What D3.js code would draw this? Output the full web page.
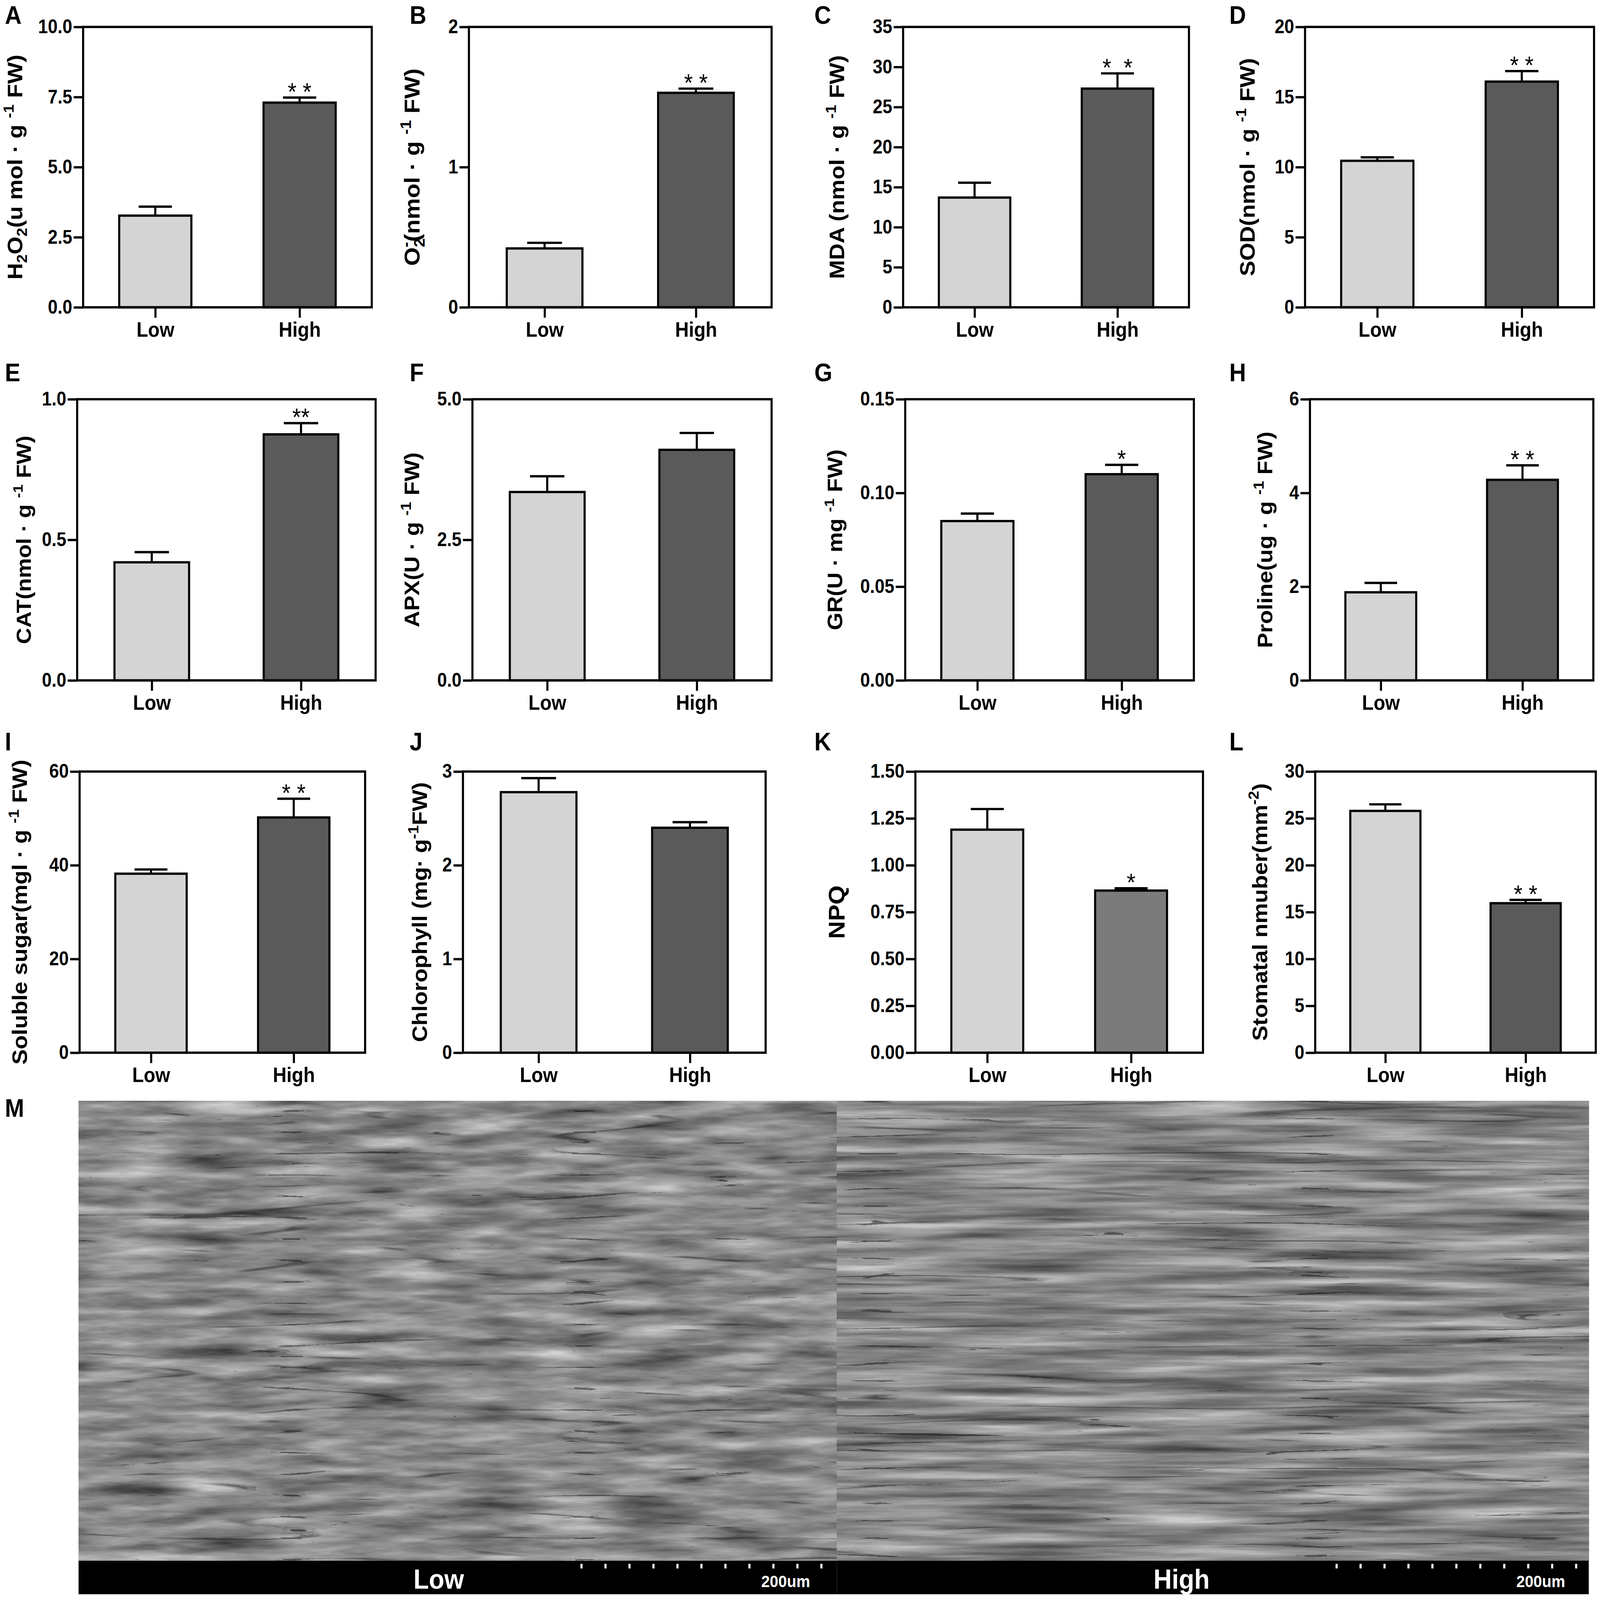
<!DOCTYPE html>
<html>
<head>
<meta charset="utf-8">
<script src="https://cdn.jsdelivr.net/npm/d3@7"></script>
<style>
  html, body { margin: 0; padding: 0; background: #fff; overflow: hidden; }
  svg { display: block; width: 100vw; height: 100vh; font-family: "Liberation Sans", Arial, sans-serif; }
  .pre { white-space: pre; }
</style>
</head>
<body>
<div id="chart"></div>
<script>
// ---- data ----
const categories = ["Low", "High"];
const panelLetters = ["A", "B", "C", "D", "E", "F", "G", "H", "I", "J", "K", "L"];
const lowMean  = [3.27, 0.42, 13.7, 10.45, 0.42, 3.35, 0.085, 1.88, 38.2, 2.78, 1.19, 25.8];
const lowErr   = [0.32, 0.04, 1.85, 0.25, 0.036, 0.28, 0.004, 0.20, 0.9, 0.15, 0.11, 0.7];
const highMean = [7.30, 1.53, 27.3, 16.1, 0.875, 4.10, 0.110, 4.28, 50.2, 2.40, 0.865, 15.95];
const highErr  = [0.18, 0.03, 1.9, 0.75, 0.04, 0.30, 0.005, 0.31, 4.0, 0.06, 0.012, 0.35];
const signif   = ["* *", "* *", "*  *", "* *", "**", "", "*", "* *", "* *", "", "*", "* *"];
const yMax     = [10, 2, 35, 20, 1, 5, 0.15, 6, 60, 3, 1.5, 30];
const yStep    = [2.5, 1, 5, 5, 0.5, 2.5, 0.05, 2, 20, 1, 0.25, 5];
const tickFormats = [".1f", "d", "d", "d", ".1f", ".1f", ".2f", "d", "d", "d", ".2f", "d"];
// y titles as [text, "sub" | "sup" | ""] pieces
const yTitles = [
  [["H", ""], ["2", "sub"], ["O", ""], ["2", "sub"], ["(u mol · g ", ""], ["-1", "sup"], [" FW)", ""]],
  [["O", ""], ["2", "sub"], ["-", "sup", true], ["(nmol · g ", ""], ["-1", "sup"], [" FW)", ""]],
  [["MDA (nmol · g ", ""], ["-1", "sup"], [" FW)", ""]],
  [["SOD(nmol · g ", ""], ["-1", "sup"], [" FW)", ""]],
  [["CAT(nmol · g ", ""], ["-1", "sup"], [" FW)", ""]],
  [["APX(U · g ", ""], ["-1", "sup"], [" FW)", ""]],
  [["GR(U · mg ", ""], ["-1", "sup"], [" FW)", ""]],
  [["Proline(ug · g ", ""], ["-1", "sup"], [" FW)", ""]],
  [["Soluble sugar(mgl · g ", ""], ["-1", "sup"], [" FW)", ""]],
  [["Chlorophyll (mg· g", ""], ["-1", "sup"], ["FW)", ""]],
  [["NPQ", ""]],
  [["Stomatal nmuber(mm", ""], ["-2", "sup"], [")", ""]]
];
const semLabels = ["Low", "High"];
const scaleText = "200um";

// ---- layout (pixels) ----
const W = 4562, H = 4160;
const rowTop = [70, 1038, 2006], rowBottom = [799, 1769, 2737], letterBase = [62, 991, 1951];
const colLetterX = [14, 1168, 2322, 3505];
const plotX = [
  [237, 1060], [1337, 2200], [2575, 3390], [3721, 4545],
  [220, 1071], [1347, 2200], [2581, 3404], [3735, 4543],
  [227, 1041], [1320, 2183], [2610, 3430], [3750, 4550]
];
const titleOff = [174, 141, 168, 144, 132, 152, 180, 108, 150, 103, 202, 137];
const titleLen = [585, 537, 582, 567, 542, 455, 470, 563, 793, 676, 139, 670];
const lowFill = "#d4d4d4", highFill = "#5a5a5a", highFillK = "#7b7b7b";
const LW = 6;

const svg = d3.select("#chart").append("svg")
  .attr("viewBox", `0 0 ${W} ${H}`)
  .attr("preserveAspectRatio", "none");

function drawTitle(g, segs, fs) {
  const t = g.append("text")
    .attr("class", "pre")
    .attr("text-anchor", "middle")
    .attr("font-weight", "bold")
    .attr("font-size", fs)
    .attr("dy", "0.36em");
  let shift = 0;
  segs.forEach(([s, k, stack]) => {
    const target = k === "sub" ? 0.24 * fs : k === "sup" ? -0.4 * fs : 0;
    const ts = t.append("tspan")
      .attr("dy", target - shift)
      .attr("font-size", k ? fs * 0.68 : fs)
      .text(s);
    if (stack) ts.attr("dx", -0.38 * fs);
    shift = target;
  });
  return t;
}

panelLetters.forEach((letter, i) => {
  const row = Math.floor(i / 4), col = i % 4;
  const x0 = plotX[i][0], x1 = plotX[i][1];
  const y0 = rowTop[row], y1 = rowBottom[row];
  const w = x1 - x0, h = y1 - y0;

  svg.append("text")
    .attr("x", colLetterX[col]).attr("y", letterBase[row])
    .attr("font-size", 66).attr("font-weight", "bold")
    .text(letter);

  const g = svg.append("g").attr("transform", `translate(${x0},${y0})`);

  const x = d3.scalePoint().domain(categories).range([0, w]).padding(0.5);
  const y = d3.scaleLinear().domain([0, yMax[i]]).range([h, 0]);
  const bw = w * 0.25;

  const bars = categories.map((c, j) => ({
    cat: c,
    v: j === 0 ? lowMean[i] : highMean[i],
    e: j === 0 ? lowErr[i] : highErr[i],
    fill: j === 0 ? lowFill : (letter === "K" ? highFillK : highFill)
  }));

  // error bars (upper only)
  g.selectAll(".err").data(bars).enter().append("line")
    .attr("x1", d => x(d.cat)).attr("x2", d => x(d.cat))
    .attr("y1", d => y(d.v)).attr("y2", d => y(d.v + d.e))
    .attr("stroke", "#000").attr("stroke-width", LW);
  g.selectAll(".cap").data(bars).enter().append("line")
    .attr("x1", d => x(d.cat) - bw * 0.23).attr("x2", d => x(d.cat) + bw * 0.23)
    .attr("y1", d => y(d.v + d.e)).attr("y2", d => y(d.v + d.e))
    .attr("stroke", "#000").attr("stroke-width", LW);

  g.selectAll(".bar").data(bars).enter().append("rect")
    .attr("x", d => x(d.cat) - bw / 2)
    .attr("y", d => y(d.v))
    .attr("width", bw)
    .attr("height", d => h - y(d.v))
    .attr("fill", d => d.fill)
    .attr("stroke", "#000").attr("stroke-width", LW);

  // significance marks
  if (signif[i]) {
    g.append("text")
      .attr("class", "pre")
      .attr("x", x("High"))
      .attr("y", y(highMean[i] + highErr[i]) + 6)
      .attr("text-anchor", "middle")
      .attr("font-size", 64)
      .text(signif[i]);
  }

  // frame
  g.append("rect")
    .attr("width", w).attr("height", h)
    .attr("fill", "none").attr("stroke", "#000").attr("stroke-width", LW);

  const ticks = d3.range(0, yMax[i] + yStep[i] / 2, yStep[i]);
  const ya = g.append("g")
    .call(d3.axisLeft(y).tickValues(ticks).tickSize(27).tickSizeOuter(0)
      .tickPadding(4).tickFormat(d3.format(tickFormats[i])));
  const xa = g.append("g").attr("transform", `translate(0,${h})`)
    .call(d3.axisBottom(x).tickSize(27).tickSizeOuter(0).tickPadding(11));
  [ya, xa].forEach(a => {
    a.select(".domain").remove();
    a.selectAll("line").attr("stroke", "#000").attr("stroke-width", LW);
    a.selectAll("text").attr("fill", "#000").attr("font-weight", "bold")
      .attr("font-family", "'Liberation Sans', Arial, sans-serif");
  });
  ya.selectAll("text").attr("font-size", 50);
  xa.selectAll("text").attr("font-size", 54);

  // y title, sized to the measured length
  const tg = g.append("g").attr("transform", `translate(${-titleOff[i]},${h / 2}) rotate(-90)`);
  let t = drawTitle(tg, yTitles[i], 56);
  const len = t.node().getComputedTextLength();
  const fs = Math.max(40, Math.min(72, 56 * titleLen[i] / len));
  t.remove();
  drawTitle(tg, yTitles[i], fs);
});

// ---- panel M: micrograph stand-in ----
svg.append("text")
  .attr("x", 14).attr("y", 2904)
  .attr("font-size", 66).attr("font-weight", "bold")
  .text("M");

const defs = svg.append("defs");
function semFilter(id, seed, freq, lineFreq) {
  const f = defs.append("filter").attr("id", id)
    .attr("x", 0).attr("y", 0).attr("width", 1).attr("height", 1)
    .attr("color-interpolation-filters", "sRGB");
  // soft grey base
  f.append("feTurbulence").attr("type", "fractalNoise")
    .attr("baseFrequency", freq).attr("numOctaves", 4).attr("seed", seed)
    .attr("result", "n1");
  f.append("feColorMatrix").attr("in", "n1").attr("type", "matrix")
    .attr("values", "0.33 0.33 0.33 0 0 0.33 0.33 0.33 0 0 0.33 0.33 0.33 0 0 0 0 0 0 1")
    .attr("result", "g1");
  const ct = f.append("feComponentTransfer").attr("in", "g1").attr("result", "base");
  ["feFuncR", "feFuncG", "feFuncB"].forEach(fn =>
    ct.append(fn).attr("type", "linear").attr("slope", 1.2).attr("intercept", -0.06));
  // thin dark creases like cell walls, stretched along the leaf
  f.append("feTurbulence").attr("type", "turbulence")
    .attr("baseFrequency", lineFreq).attr("numOctaves", 2).attr("seed", seed + 5)
    .attr("result", "n2");
  f.append("feColorMatrix").attr("in", "n2").attr("type", "matrix")
    .attr("values", "1 0 0 0 0 1 0 0 0 0 1 0 0 0 0 0 0 0 0 1")
    .attr("result", "g2");
  const lt = f.append("feComponentTransfer").attr("in", "g2").attr("result", "lines");
  ["feFuncR", "feFuncG", "feFuncB"].forEach(fn =>
    lt.append(fn).attr("type", "linear").attr("slope", 6).attr("intercept", 0.55));
  f.append("feBlend").attr("in", "base").attr("in2", "lines").attr("mode", "multiply");
}
semFilter("semL", 7, "0.004 0.03", "0.0012 0.018");
semFilter("semR", 19, "0.0022 0.04", "0.0008 0.022");

const semX = [[224, 2386], [2386, 4530]];
const semTop = 2863, barTop = 4058, semBottom = 4145;
const scaleTicks = [[1658, 2342], [3811, 4494]];

semLabels.forEach((lab, k) => {
  const [a, b] = semX[k];
  svg.append("rect")
    .attr("x", a).attr("y", semTop).attr("width", b - a).attr("height", barTop - semTop)
    .attr("fill", "#8a8a8a")
    .attr("filter", `url(#${k === 0 ? "semL" : "semR"})`);
  svg.append("rect")
    .attr("x", a).attr("y", barTop).attr("width", b - a).attr("height", semBottom - barTop)
    .attr("fill", "#000");
  const tx = d3.scaleLinear().domain([0, 10]).range(scaleTicks[k]);
  svg.selectAll(null).data(d3.range(11)).enter().append("rect")
    .attr("x", d => tx(d) - 3).attr("y", barTop + 8)
    .attr("width", 6).attr("height", 12)
    .attr("fill", "#fff");
  svg.append("text")
    .attr("x", k === 0 ? 1251 : 3369).attr("y", barTop + 73)
    .attr("text-anchor", "middle")
    .attr("font-size", 72).attr("font-weight", "bold").attr("fill", "#fff")
    .text(lab);
  svg.append("text")
    .attr("x", k === 0 ? 2240 : 4393).attr("y", barTop + 68)
    .attr("text-anchor", "middle")
    .attr("font-size", 44).attr("font-weight", "bold").attr("fill", "#fff")
    .text(scaleText);
});
</script>
</body>
</html>
